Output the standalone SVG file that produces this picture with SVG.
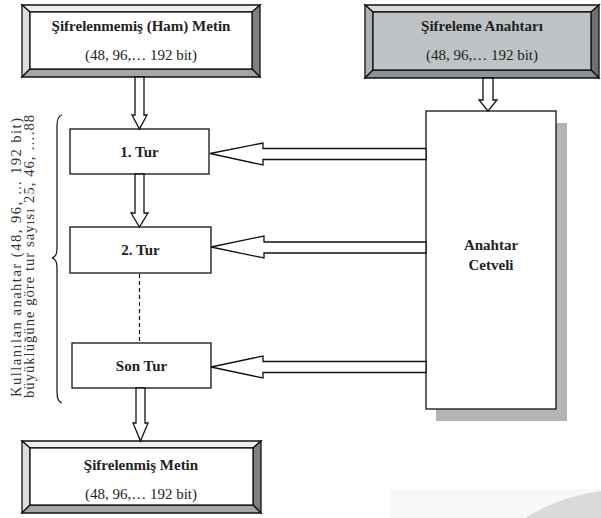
<svg xmlns="http://www.w3.org/2000/svg" width="601" height="518" viewBox="0 0 601 518">
<style>
.b{stroke:#111;stroke-width:1.3;stroke-linejoin:miter}
.face{fill:#fff}
.wt{fill:#efefef}.wl{fill:#dcdcdc}.wr{fill:#808080}.wb{fill:#a6a6a6}
.kf{fill:#c0c3c5}.kt{fill:#d8dadb}.kl{fill:#aeb1b3}.kr{fill:#6e7173}.kb{fill:#8f9294}
.t{font-family:"Liberation Serif","Times New Roman",serif;fill:#222;text-anchor:middle}
.bold{font-weight:bold;font-size:15px}
.reg{font-size:15px}
.arr{fill:#fff;stroke:#111;stroke-width:1.3;stroke-linejoin:miter}
.box{fill:#fff;stroke:#111;stroke-width:1.3}
.note{font-size:14.5px;fill:#333}
</style>
<rect x="0" y="0" width="601" height="518" fill="#fff"/>
<g id="watermark">
<rect x="390" y="489" width="211" height="29" fill="#f8f8f8"/>
<circle cx="622" cy="671" r="181" fill="#dadada"/>
</g>
<g id="plain-text">
<g class="b">
<polygon class="wt" points="22,5 260,5 252,12 30,12"/>
<polygon class="wl" points="22,5 30,12 30,69 22,77"/>
<polygon class="wr" points="260,5 260,77 252,69 252,12"/>
<polygon class="wb" points="22,77 30,69 252,69 260,77"/>
<rect class="face" x="30" y="12" width="222" height="57"/>
</g>
<text class="t bold" x="141" y="31">Şifrelenmemiş (Ham) Metin</text>
<text class="t reg" x="141" y="60">(48, 96,… 192 bit)</text>
</g>
<g id="key">
<g class="b">
<polygon class="kt" points="365,5 599,5 591,12 373,12"/>
<polygon class="kl" points="365,5 373,12 373,70 365,78"/>
<polygon class="kr" points="599,5 599,78 591,70 591,12"/>
<polygon class="kb" points="365,78 373,70 591,70 599,78"/>
<rect class="kf" x="373" y="12" width="218" height="58"/>
</g>
<text class="t bold" x="482" y="31">Şifreleme Anahtarı</text>
<text class="t reg" x="482" y="60">(48, 96,… 192 bit)</text>
</g>
<g id="key-schedule">
<rect x="436" y="123" width="131" height="298" fill="#b4b4b4"/>
<rect class="box" x="426" y="111" width="130" height="298"/>
<text class="t bold" x="491" y="250">Anahtar</text>
<text class="t bold" x="491" y="270">Cetveli</text>
</g>
<g id="round1">
<rect class="box" x="70" y="129" width="139" height="45"/>
<text class="t bold" x="139.5" y="157">1. Tur</text>
</g>
<g id="round2">
<rect class="box" x="70" y="227" width="141" height="46"/>
<text class="t bold" x="140.5" y="255">2. Tur</text>
</g>
<g id="last-round">
<rect class="box" x="72" y="343" width="139" height="45"/>
<text class="t bold" x="141.5" y="371">Son Tur</text>
</g>
<g id="cipher-text">
<g class="b">
<polygon class="wt" points="22,441 261,441 253,448 30,448"/>
<polygon class="wl" points="22,441 30,448 30,505 22,513"/>
<polygon class="wr" points="261,441 261,513 253,505 253,448"/>
<polygon class="wb" points="22,513 30,505 253,505 261,513"/>
<rect class="face" x="30" y="448" width="223" height="57"/>
</g>
<text class="t bold" x="141" y="470">Şifrelenmiş Metin</text>
<text class="t reg" x="141" y="499">(48, 96,… 192 bit)</text>
</g>
<g id="rounds-note">
<path d="M62,115 Q57,116 57,126 L57,248 Q57,257 52,258 Q57,259 57,268 L57,392 Q57,402 62,403" fill="none" stroke="#111" stroke-width="1.2"/>
<text class="t note" transform="rotate(-90)" x="-257.5" y="20.5" textLength="279" lengthAdjust="spacing">Kullanılan anahtar (48, 96, … 192 bit)</text>
<text class="t note" transform="rotate(-90)" x="-256.5" y="34" textLength="283" lengthAdjust="spacing">büyüklüğüne göre tur sayısı 25, 46, ….88</text>
</g>
<g id="connectors">
<polygon class="arr" points="135,77 144,77 144,115 147,115 139.5,129 132,115 135,115"/>
<polygon class="arr" points="483,78 493,78 493,100 497,100 488,111 479,100 483,100"/>
<polygon class="arr" points="135,174 144,174 144,213 148,213 139.5,227 131,213 135,213"/>
<line x1="139.5" y1="274" x2="139.5" y2="343" stroke="#111" stroke-width="1.2" stroke-dasharray="4,3"/>
<polygon class="arr" points="136,388 145,388 145,423 148,423 140.5,441 133,423 136,423"/>
<polygon class="arr" points="426,148.5 263,148.5 263,143 210,153.5 263,165 263,159.5 426,159.5"/>
<polygon class="arr" points="426,242 264,242 264,236 211,247 264,258 264,253 426,253"/>
<polygon class="arr" points="426,361.5 263,361.5 263,356 211,367 263,378 263,372.5 426,372.5"/>
</g>
</svg>
